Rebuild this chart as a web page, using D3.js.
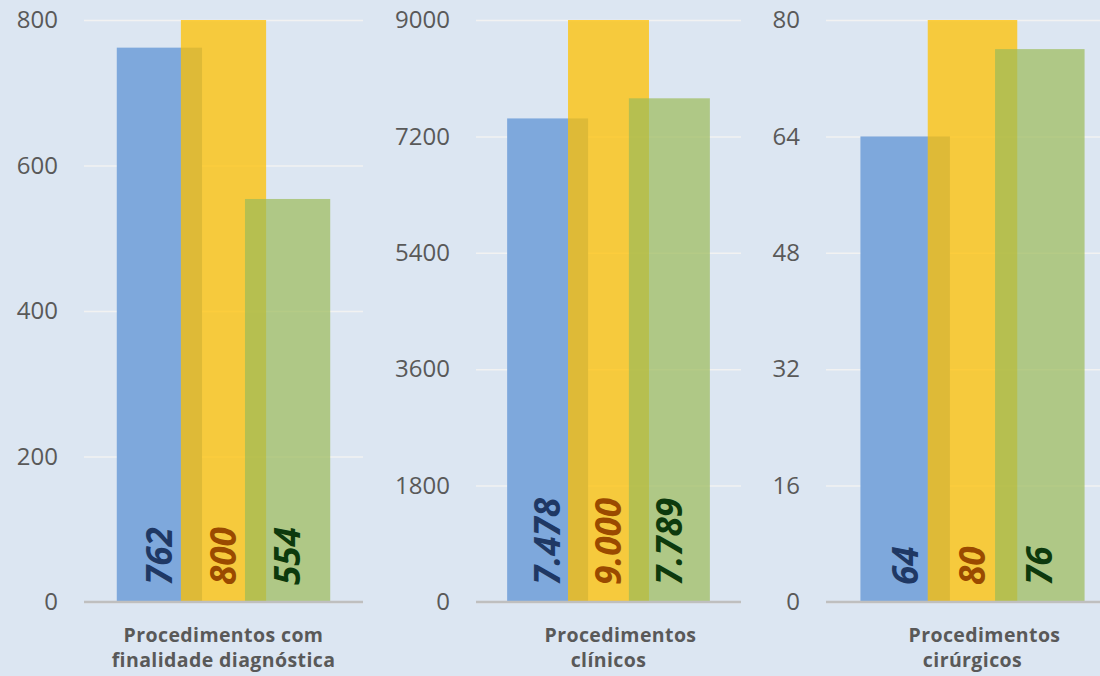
<!DOCTYPE html>
<html>
<head>
<meta charset="utf-8">
<script src="https://cdn.jsdelivr.net/npm/d3@7"></script>
<style>
    html, body { margin: 0; padding: 0; background: #dce6f2; }
    svg { display: block; }
    .tick line { stroke: #f2f2f2; stroke-width: 1.5; }
    .tick text { fill: #595959; font-family: "Open Sans", sans-serif; font-size: 24px; }
</style>
</head>
<body>
<div id="chart"></div>
<script>
// series in draw order (blue, yellow, green)
var seriesKeys = ["serie1", "serie2", "serie3"];
var seriesColours = ["#7ea8dc", "rgba(255,192,0,0.75)", "rgba(155,187,89,0.7)"];
var labelColours = ["#1f3864", "#9a4a00", "#0d3a0d"];

var categoryLines = [
    ["Procedimentos com", "finalidade diagnóstica"],
    ["Procedimentos", "clínicos"],
    ["Procedimentos", "cirúrgicos"]
];

var diagValues = [762, 800, 554];
var clinValues = [7478, 9000, 7789];
var cirValues = [64, 80, 76];

var diagTicks = [0, 200, 400, 600, 800];
var clinTicks = [0, 1800, 3600, 5400, 7200, 9000];
var cirTicks = [0, 16, 32, 48, 64, 80];

var width = 1100;
var height = 676;
var top0 = 20;
var base = 602;

var ptBR = d3.formatLocale({ decimal: ",", thousands: ".", grouping: [3], currency: ["R$", ""] });
var fmtValue = ptBR.format(",d");

var svg = d3.select("#chart")
    .append("svg")
    .attr("width", width)
    .attr("height", height);

svg.append("rect")
    .attr("width", width)
    .attr("height", height)
    .attr("fill", "#dce6f2");

function drawPanel(left, right, values, ticks, lines, line1Shift) {
    var g = svg.append("g");
    var panelWidth = right - left;

    var y = d3.scaleLinear()
        .domain([0, d3.max(ticks)])
        .range([base, top0]);

    // bars overlap: each bar is ~1.33 steps wide
    var step = panelWidth * 0.765 / 3.33;
    var barWidth = step * 1.33;
    var groupStart = left + (panelWidth - (2 * step + barWidth)) / 2;
    var x = d3.scalePoint()
        .domain(seriesKeys)
        .range([groupStart, groupStart + 2 * step]);

    g.append("g")
        .attr("transform", `translate(${left},0)`)
        .call(d3.axisLeft(y)
            .tickValues(ticks)
            .tickSize(-panelWidth)
            .tickPadding(26)
            .tickFormat(d3.format("d")))
        .call(ax => ax.select(".domain").remove());

    var rows = seriesKeys.map((k, i) => ({ key: k, value: values[i], i: i }));

    g.append("g")
        .selectAll("rect")
        .data(rows)
        .enter().append("rect")
        .attr("x", d => x(d.key))
        .attr("y", d => y(d.value))
        .attr("width", barWidth)
        .attr("height", d => base - y(d.value))
        .attr("fill", d => seriesColours[d.i]);

    g.append("line")
        .attr("x1", left)
        .attr("x2", right)
        .attr("y1", y(0))
        .attr("y2", y(0))
        .attr("stroke", "#bfbfbf")
        .attr("stroke-width", 2.5);

    g.append("g")
        .selectAll("text")
        .data(rows)
        .enter().append("text")
        .attr("transform", d => `translate(${x(d.key) + barWidth / 2},${base - 17}) rotate(-90)`)
        .attr("dy", "0.36em")
        .attr("fill", d => labelColours[d.i])
        .style("font-family", "'Open Sans', sans-serif")
        .style("font-weight", "bold")
        .style("font-style", "italic")
        .style("font-size", "35px")
        .text(d => fmtValue(d.value));

    var cx = groupStart + step + barWidth / 2;
    g.append("g")
        .selectAll("text")
        .data(lines)
        .enter().append("text")
        .attr("x", (d, i) => cx + (i == 0 ? line1Shift : 0))
        .attr("y", (d, i) => 642 + i * 25)
        .attr("text-anchor", "middle")
        .attr("fill", "#595959")
        .style("font-family", "'Open Sans', sans-serif")
        .style("font-weight", "bold")
        .style("font-size", "19.5px")
        .style("letter-spacing", "0.4px")
        .text(d => d);
}

drawPanel(84, 363, diagValues, diagTicks, categoryLines[0], 0);
drawPanel(476, 741, clinValues, clinTicks, categoryLines[1], 12);
drawPanel(826, 1119, cirValues, cirTicks, categoryLines[2], 12);
</script>
</body>
</html>
